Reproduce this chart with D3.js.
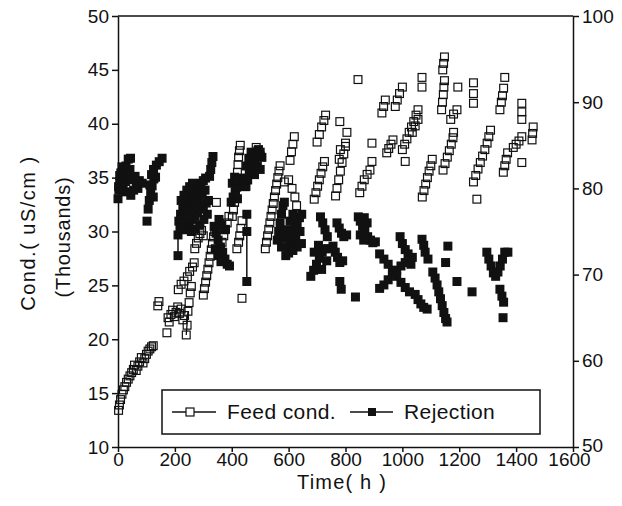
<!DOCTYPE html>
<html>
<head>
<meta charset="utf-8">
<script src="https://cdn.jsdelivr.net/npm/d3@7"></script>
<style>
  body { margin: 0; background: #fff; }
  text { font-family: "Liberation Sans", Arial, sans-serif; fill: #111; }
</style>
</head>
<body>
<div id="container"></div>
<script>
/* CONSTANTS AND GLOBALS */
const width = 622,
  height = 506,
  margin = { top: 16, bottom: 59, left: 118, right: 49 },
  box = 9;

/* DATA: [time h, feed cond (thousands uS/cm)], one array per batch */
const feedRuns = [
  [[2,13.4],[5,13.9],[9,14.4],[14,14.9],[19,15.3],[24,15.6],[30,16],[36,16.3],[42,16.6],[48,16.9],[54,17.2],[58,17.6],[64,17.1],[70,17.5],[76,17.9],[82,18.3],[88,17.8],[94,18.2],[100,18.6],[106,18.9],[112,19.1],[118,19.3],[124,19.4]],
  [[140,23.1],[144,23.5]],
  [[172,20.6]],
  [[176,22],[180,21.6],[186,22.3],[192,22.7],[198,22.1],[204,22.5],[210,23],[216,22.4],[222,22.8],[228,21.8],[234,22.2]],
  [[240,20.4],[243,21.3],[246,22.6],[250,23.4],[254,24.3],[258,24.9]],
  [[212,24.6],[222,25.1],[232,25.4],[244,25.8],[252,26.3],[262,26.7],[268,27.1]],
  [[270,28.4],[276,28.9],[282,29.4],[288,29.8],[294,30.1],[300,29.6]],
  [[300,24.1],[304,24.7],[308,25.3],[312,25.9],[316,26.5],[320,27.1],[324,27.7],[328,28.3],[332,28.9],[336,29.5],[340,30]],
  [[346,32.7]],
  [[360,28.4],[366,29],[372,29.6],[378,30.2],[384,30.8],[390,31.4]],
  [[402,31.4],[406,32],[410,32.7],[413,33.4],[416,34.1],[418,34.8],[420,35.5],[422,36.2],[424,36.9],[427,37.5],[430,38]],
  [[418,28.4],[424,29],[428,29.6],[432,30.3],[436,31]],
  [[436,23.8]],
  [[450,34.2],[456,34.8],[462,35.4],[468,36],[474,36.6],[480,37.2],[486,37.8],[492,37.5],[500,37]],
  [[518,28.4],[522,29],[526,29.6],[530,30.2],[534,30.8],[538,31.4],[542,32],[546,32.6],[550,33.2],[554,33.8],[558,34.4],[562,35],[566,35.6],[570,36.1]],
  [[585,34.6],[600,34.8],[612,34],[622,33.2],[628,32.4]],
  [[605,36.6],[610,37.4],[615,38.1],[620,38.8]],
  [[690,33],[696,33.6],[702,34.2],[708,34.8],[714,35.4],[720,36],[726,36.5]],
  [[700,38.3],[708,39],[716,39.7],[724,40.3],[730,40.8]],
  [[765,33.3],[770,34],[776,34.8],[782,35.6],[788,36.4],[794,37.2],[800,37.9]],
  [[778,36.7]],[[782,37.6]],[[800,38.2]],[[805,39.2]],[[780,40.2]],
  [[844,44.1]],
  [[850,33.6],[858,34.2],[866,34.8],[876,35.3],[886,35.7]],
  [[893,36.5]],[[893,38.2]],
  [[928,41],[934,41.6],[940,42.2]],
  [[945,37.3],[952,37.7],[960,38.1],[967,38.5]],
  [[975,41.6],[982,42.2],[990,42.8],[1000,43.4]],
  [[1000,37.6],[1008,38.1],[1016,38.6],[1024,39.2],[1032,39.7],[1040,40.2],[1048,40.8],[1055,41.3]],
  [[1010,36.5]],
  [[1035,39.2],[1045,39.8],[1055,40.4]],
  [[1069,43.4],[1069,44.3]],
  [[1070,33.2],[1076,33.8],[1082,34.4],[1088,35],[1094,35.6],[1100,36.1],[1105,36.7]],
  [[1138,41.3],[1141,42],[1144,42.7],[1146,43.4],[1148,44]],
  [[1142,45],[1145,45.6],[1148,46.2]],
  [[1143,35.7],[1150,36.3],[1158,36.9],[1165,37.5],[1172,38.1],[1178,38.7],[1180,39.2]],
  [[1170,40.4],[1180,40.9],[1192,41.3]],
  [[1195,43.4]],
  [[1250,41.9],[1250,42.8],[1250,43.8]],
  [[1250,34.6],[1258,35.2],[1266,35.8],[1274,36.4],[1282,37],[1290,37.6],[1298,38.2],[1304,38.8],[1310,39.4]],
  [[1262,33]],
  [[1343,41.3],[1348,42],[1352,42.6],[1356,43.3],[1360,44.3]],
  [[1355,35.5],[1360,36.1],[1365,36.7],[1370,37.3]],
  [[1390,37.8],[1400,38.1],[1410,38.4],[1420,38.8]],
  [[1420,36.4]],
  [[1420,40.4],[1420,41.1],[1420,41.9]],
  [[1456,38.5],[1458,39.1],[1460,39.7]]
];

/* DATA: [time h, rejection %], right axis */
const rejRuns = [
  [[0,78.8],[3,79.8],[6,80.8],[10,81.8],[14,82.5]],
  [[2,80.2],[6,81.5],[12,80.5],[18,79.8]],
  [[20,81.5],[28,82.6],[36,83.4],[44,83.5]],
  [[26,80.8],[34,81.4],[42,82.2],[30,79.6]],
  [[45,79.2],[55,79.8],[65,80.4],[75,80.9],[85,80.6]],
  [[50,81],[60,81.4],[70,80]],
  [[102,76.2],[106,77.6],[110,78.6],[115,79.5],[120,80.3],[126,81.1],[132,81.3]],
  [[112,80.4],[118,81.6],[124,79]],
  [[125,82.2],[135,82.7],[145,83.1],[155,83.5]],
  [[211,72.2],[211,74.6],[214,76.2],[220,77],[228,77.6],[236,78],[244,78.4],[252,78.8],[260,79.2],[268,79.6],[276,80],[284,80.3],[292,80.6],[300,80.9],[308,81.2]],
  [[230,75.2],[240,75.6],[250,76],[260,76.4],[270,76.8],[280,77.2],[290,77.6],[300,78],[310,78.3],[318,78.6]],
  [[218,75.4],[226,76.4],[236,77],[246,77.4],[256,77.8],[266,78.2],[276,78.6],[286,79],[296,79.4],[306,79.8]],
  [[222,78.6],[232,79.2],[242,79.8],[252,80.2],[262,80.6]],
  [[258,75],[272,75.3],[288,75.8],[302,76.4],[314,77]],
  [[322,81.4],[326,82.2],[330,83],[334,83.7]],
  [[338,75.6],[345,74.8],[352,74],[360,73.2],[368,72.6],[376,71.8],[384,71.2],[392,71]],
  [[342,73],[352,72.2],[362,71.5]],
  [[355,76.4],[365,75.8],[375,75.2]],
  [[398,78.4],[405,79],[412,79.6],[418,80.2],[425,80.8],[432,81.2]],
  [[402,80.6],[410,81.3],[420,78.8]],
  [[453,77],[453,75],[453,69.2]],
  [[448,80.2],[455,81],[462,81.8],[470,82.6],[478,83.3],[486,84],[494,84.5],[500,84.2],[506,83.6]],
  [[452,82.6],[460,83.5],[468,84.2],[480,81.6],[490,82.6],[500,82.2]],
  [[560,74],[565,75],[570,76],[575,77],[580,78],[585,78.4]],
  [[590,72.2],[598,73],[606,73.8],[614,74.6],[622,75.4],[630,76],[638,76.6],[646,77]],
  [[600,72.5],[615,72.8],[630,73.2],[645,73.6]],
  [[575,73.2],[585,74.2],[595,75.2],[605,76.2],[615,77],[625,74],[640,75]],
  [[678,69.8],[688,70.5],[698,71.2],[708,71.9],[718,72.6],[728,73],[740,73]],
  [[690,72.6],[705,73.4],[716,70.6],[734,71.6]],
  [[712,76.7],[720,76],[728,75.2],[736,74.4]],
  [[770,76],[778,75.4],[786,74.8],[794,74.4],[804,74.6]],
  [[756,73.3],[764,72.6],[772,72],[780,71.4],[790,71.6]],
  [[780,69.2],[785,68.3]],
  [[835,67.4]],
  [[845,76.7],[852,76.2],[860,75.6],[868,75],[878,74.4],[888,74],[896,73.7],[905,73.8]],
  [[852,74.6],[864,74],[876,76],[866,76.6]],
  [[920,72.4],[935,71.8],[950,71.2],[965,70.5],[980,69.8],[995,69.1],[1010,68.5],[1025,68]],
  [[920,68.4],[935,68.8],[950,69.4],[965,70],[980,70.5],[995,71],[1010,71.4],[1030,71.2]],
  [[992,74.4],[1000,73.6],[1010,72.9],[1020,72.4],[1035,72]],
  [[1069,74.1],[1075,73.4],[1080,72.6],[1090,71.8]],
  [[1045,67.7],[1055,67.1],[1065,66.6],[1075,66.2],[1087,66]],
  [[1107,70.3],[1115,69.6],[1122,68.8],[1128,68],[1134,67.2],[1140,66.4],[1146,65.6],[1152,64.9],[1157,64.5]],
  [[1160,73.3]],[[1152,71.4]],
  [[1192,69.2]],
  [[1245,68]],
  [[1297,72.6],[1304,71.8],[1312,71],[1320,70.2],[1328,69.8],[1336,70.3],[1344,71],[1352,71.8],[1360,72.6],[1371,72.6]],
  [[1343,68.3],[1350,67.5],[1356,66.8]],
  [[1354,65]]
];

/* connecting segments that show in the picture */
const feedLinks = [[[240,20.4],[246,22.6]]];
const rejLinks = [[[211,72.2],[211,74.6]], [[453,75],[453,69.2]], [[453,77],[453,75]]];

const xTicks = [0, 200, 400, 600, 800, 1000, 1200, 1400, 1600];
const yTicks = [10, 15, 20, 25, 30, 35, 40, 45, 50];
const y2Ticks = [50, 60, 70, 80, 90, 100];

/* SCALES */
const xScale = d3.scaleLinear()
  .domain([0, 1600])
  .range([margin.left, width - margin.right]);

const yScale = d3.scaleLinear()
  .domain([10, 50])
  .range([height - margin.bottom, margin.top]);

const y2Scale = d3.scaleLinear()
  .domain([50, 100])
  .range([height - margin.bottom, margin.top]);

const svg = d3.select("#container").append("svg")
  .attr("width", width)
  .attr("height", height);

// top frame line
svg.append("line")
  .attr("x1", xScale(0)).attr("x2", xScale(1600))
  .attr("y1", yScale(50)).attr("y2", yScale(50))
  .attr("stroke", "#111").attr("stroke-width", 1.5);

/* AXES */
const xAxis = d3.axisBottom(xScale).tickValues(xTicks).tickFormat(d3.format("d"))
  .tickSize(5).tickSizeOuter(0).tickPadding(1);
const yAxis = d3.axisLeft(yScale).tickValues(yTicks).tickSize(6).tickSizeOuter(0).tickPadding(3);
const y2Axis = d3.axisRight(y2Scale).tickValues(y2Ticks).tickSize(6).tickSizeOuter(0).tickPadding(3);

const axisStyle = g => {
  g.selectAll("path, line").attr("stroke", "#111").attr("stroke-width", 1.5);
  g.selectAll("text").attr("font-size", 19).attr("fill", "#111")
    .style("font-family", "'Liberation Sans', Arial, sans-serif");
};

const xG = svg.append("g").attr("transform", `translate(0,${height - margin.bottom})`).call(xAxis).call(axisStyle);
svg.append("g").attr("transform", `translate(${margin.left},0)`).call(yAxis).call(axisStyle);
const y2G = svg.append("g").attr("transform", `translate(${width - margin.right},0)`).call(y2Axis).call(axisStyle);
// corner labels: "1600" sits a bit left and "50" a bit up, as in the picture
xG.selectAll(".tick text").filter(d => d === 1600).attr("dx", -4);
y2G.selectAll(".tick text").filter(d => d === 50).attr("dy", "0.24em");

/* MARKS */
const feedLine = d3.line().x(d => xScale(d[0])).y(d => yScale(d[1]));
const rejLine = d3.line().x(d => xScale(d[0])).y(d => y2Scale(d[1]));

svg.append("g").selectAll("path").data(rejLinks).join("path")
  .attr("d", rejLine)
  .attr("fill", "none").attr("stroke", "#111").attr("stroke-width", 1.5);
svg.append("g").selectAll("path").data(feedLinks).join("path")
  .attr("d", feedLine)
  .attr("fill", "none").attr("stroke", "#111").attr("stroke-width", 1.3);

svg.append("g").selectAll("rect").data(rejRuns.flat()).join("rect")
  .attr("x", d => xScale(d[0]) - box / 2)
  .attr("y", d => y2Scale(d[1]) - box / 2)
  .attr("width", box).attr("height", box)
  .attr("fill", "#111");

svg.append("g").selectAll("rect").data(feedRuns.flat()).join("rect")
  .attr("x", d => xScale(d[0]) - box / 2 + 0.6)
  .attr("y", d => yScale(d[1]) - box / 2 + 0.6)
  .attr("width", box - 1.2).attr("height", box - 1.2)
  .attr("fill", "none").attr("stroke", "#111").attr("stroke-width", 1.2);

/* LEGEND */
const lg = svg.append("g");
lg.append("rect")
  .attr("x", 162).attr("y", 390).attr("width", 378).attr("height", 44)
  .attr("fill", "#fff").attr("stroke", "#111").attr("stroke-width", 1.5);
lg.append("line").attr("x1", 172).attr("x2", 216).attr("y1", 412).attr("y2", 412)
  .attr("stroke", "#111").attr("stroke-width", 1.3);
lg.append("rect").attr("x", 186).attr("y", 408).attr("width", 8).attr("height", 8)
  .attr("fill", "#fff").attr("stroke", "#111").attr("stroke-width", 1.2);
lg.append("text").attr("x", 227).attr("y", 419).attr("font-size", 21)
  .attr("letter-spacing", 0.4).text("Feed cond.");
lg.append("line").attr("x1", 350).attr("x2", 393).attr("y1", 412).attr("y2", 412)
  .attr("stroke", "#111").attr("stroke-width", 1.3);
lg.append("rect").attr("x", 368).attr("y", 408).attr("width", 8).attr("height", 8)
  .attr("fill", "#111");
lg.append("text").attr("x", 404).attr("y", 419).attr("font-size", 21)
  .attr("letter-spacing", 0.4).text("Rejection");

/* TITLES */
svg.append("text")
  .attr("transform", "translate(35,233) rotate(-90)")
  .attr("text-anchor", "middle").attr("font-size", 20).attr("letter-spacing", 1.5)
  .text("Cond.( uS/cm )");
svg.append("text")
  .attr("transform", "translate(70,237) rotate(-90)")
  .attr("text-anchor", "middle").attr("font-size", 20).attr("letter-spacing", 0.8)
  .text("(Thousands)");
svg.append("text")
  .attr("x", 342).attr("y", 489)
  .attr("text-anchor", "middle").attr("font-size", 20).attr("letter-spacing", 1.2)
  .text("Time( h )");
</script>
</body>
</html>
